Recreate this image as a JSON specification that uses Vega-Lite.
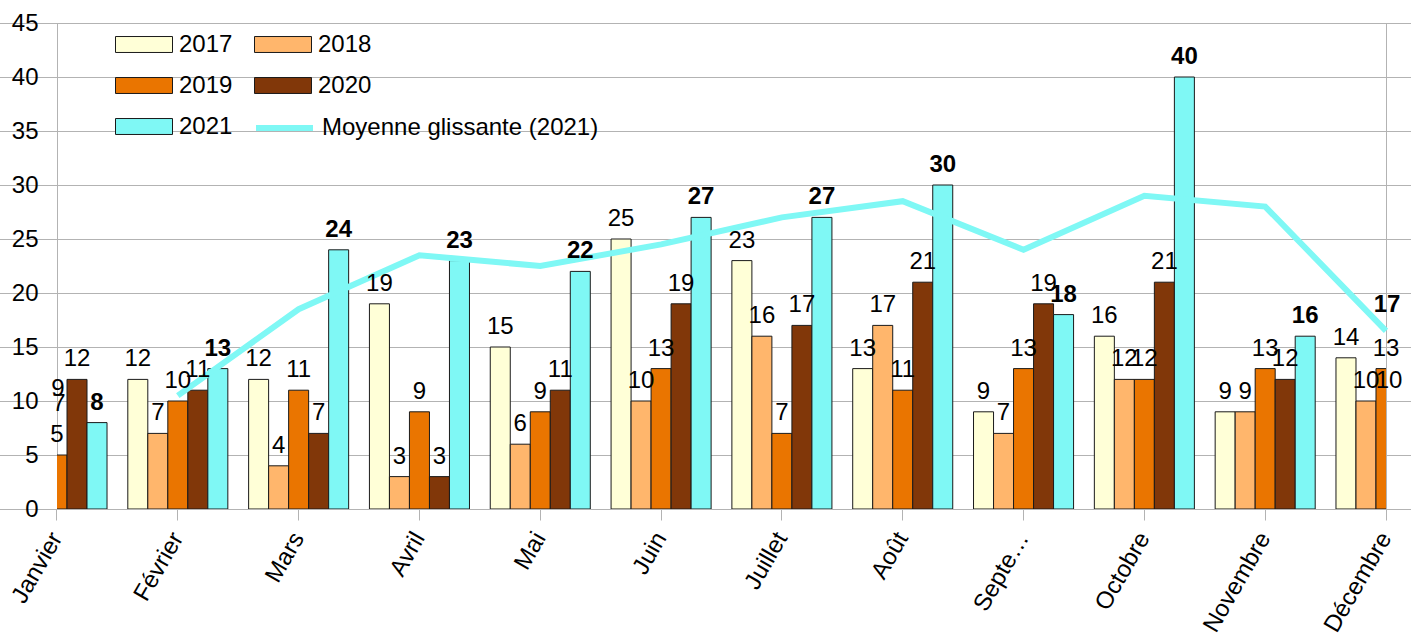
{
  "$schema": "https://vega.github.io/schema/vega-lite/v6.json",
  "width": 1329,
  "height": 486,
  "autosize": {"type": "none"},
  "padding": {"left": 57, "top": 23, "right": 25, "bottom": 126},
  "background": "white",
  "config": {
    "font": "Liberation Sans",
    "view": {"stroke": "#b3b3b3", "strokeWidth": 1},
    "axis": {"labelFont": "Liberation Sans", "labelFontSize": 24, "labelColor": "black", "tickColor": "#b3b3b3", "tickSize": 11, "domain": false, "title": null}
  },
  "datasets": {
    "bars": [
      {"month": "Janvier", "year": "2017", "value": 9},
      {"month": "Janvier", "year": "2018", "value": 7},
      {"month": "Janvier", "year": "2019", "value": 5},
      {"month": "Janvier", "year": "2020", "value": 12},
      {"month": "Janvier", "year": "2021", "value": 8},
      {"month": "Février", "year": "2017", "value": 12},
      {"month": "Février", "year": "2018", "value": 7},
      {"month": "Février", "year": "2019", "value": 10},
      {"month": "Février", "year": "2020", "value": 11},
      {"month": "Février", "year": "2021", "value": 13},
      {"month": "Mars", "year": "2017", "value": 12},
      {"month": "Mars", "year": "2018", "value": 4},
      {"month": "Mars", "year": "2019", "value": 11},
      {"month": "Mars", "year": "2020", "value": 7},
      {"month": "Mars", "year": "2021", "value": 24},
      {"month": "Avril", "year": "2017", "value": 19},
      {"month": "Avril", "year": "2018", "value": 3},
      {"month": "Avril", "year": "2019", "value": 9},
      {"month": "Avril", "year": "2020", "value": 3},
      {"month": "Avril", "year": "2021", "value": 23},
      {"month": "Mai", "year": "2017", "value": 15},
      {"month": "Mai", "year": "2018", "value": 6},
      {"month": "Mai", "year": "2019", "value": 9},
      {"month": "Mai", "year": "2020", "value": 11},
      {"month": "Mai", "year": "2021", "value": 22},
      {"month": "Juin", "year": "2017", "value": 25},
      {"month": "Juin", "year": "2018", "value": 10},
      {"month": "Juin", "year": "2019", "value": 13},
      {"month": "Juin", "year": "2020", "value": 19},
      {"month": "Juin", "year": "2021", "value": 27},
      {"month": "Juillet", "year": "2017", "value": 23},
      {"month": "Juillet", "year": "2018", "value": 16},
      {"month": "Juillet", "year": "2019", "value": 7},
      {"month": "Juillet", "year": "2020", "value": 17},
      {"month": "Juillet", "year": "2021", "value": 27},
      {"month": "Août", "year": "2017", "value": 13},
      {"month": "Août", "year": "2018", "value": 17},
      {"month": "Août", "year": "2019", "value": 11},
      {"month": "Août", "year": "2020", "value": 21},
      {"month": "Août", "year": "2021", "value": 30},
      {"month": "Septembre", "year": "2017", "value": 9},
      {"month": "Septembre", "year": "2018", "value": 7},
      {"month": "Septembre", "year": "2019", "value": 13},
      {"month": "Septembre", "year": "2020", "value": 19},
      {"month": "Septembre", "year": "2021", "value": 18},
      {"month": "Octobre", "year": "2017", "value": 16},
      {"month": "Octobre", "year": "2018", "value": 12},
      {"month": "Octobre", "year": "2019", "value": 12},
      {"month": "Octobre", "year": "2020", "value": 21},
      {"month": "Octobre", "year": "2021", "value": 40},
      {"month": "Novembre", "year": "2017", "value": 9},
      {"month": "Novembre", "year": "2018", "value": 9},
      {"month": "Novembre", "year": "2019", "value": 13},
      {"month": "Novembre", "year": "2020", "value": 12},
      {"month": "Novembre", "year": "2021", "value": 16},
      {"month": "Décembre", "year": "2017", "value": 14},
      {"month": "Décembre", "year": "2018", "value": 10},
      {"month": "Décembre", "year": "2019", "value": 13},
      {"month": "Décembre", "year": "2020", "value": 10},
      {"month": "Décembre", "year": "2021", "value": 17}
    ],
    "avg": [
      {"month": "Février", "avg": 10.5},
      {"month": "Mars", "avg": 18.5},
      {"month": "Avril", "avg": 23.5},
      {"month": "Mai", "avg": 22.5},
      {"month": "Juin", "avg": 24.5},
      {"month": "Juillet", "avg": 27},
      {"month": "Août", "avg": 28.5},
      {"month": "Septembre", "avg": 24},
      {"month": "Octobre", "avg": 29},
      {"month": "Novembre", "avg": 28},
      {"month": "Décembre", "avg": 16.5}
    ]
  },
  "layer": [
    {
      "data": {"name": "bars"},
      "mark": {"type": "bar", "clip": true, "stroke": "#1a1a1a", "strokeWidth": 1},
      "encoding": {
        "x": {
          "field": "month", "type": "nominal",
          "scale": {
            "domain": ["Janvier", "Février", "Mars", "Avril", "Mai", "Juin", "Juillet", "Août", "Septembre", "Octobre", "Novembre", "Décembre"],
            "range": [-60.41, 1389.41], "paddingInner": 0.172, "paddingOuter": 0.086
          },
          "axis": {
            "labelAngle": -60, "labelAlign": "right", "labelBaseline": "middle", "labelPadding": 14,
            "labelOverlap": false, "labelBound": false, "labelFlush": false, "labelLimit": 300,
            "labelExpr": "datum.label == 'Septembre' ? 'Septe…' : datum.label"
          }
        },
        "xOffset": {"field": "year", "type": "nominal", "scale": {"paddingInner": 0, "paddingOuter": 0}},
        "y": {
          "field": "value", "type": "quantitative",
          "scale": {"domain": [0, 45], "nice": false},
          "axis": {"values": [0, 5, 10, 15, 20, 25, 30, 35, 40, 45], "gridColor": "#b3b3b3", "labelPadding": 8}
        },
        "color": {
          "field": "year", "type": "nominal",
          "scale": {
            "domain": ["2017", "2018", "2019", "2020", "2021"],
            "range": ["#ffffd7", "#ffb66c", "#ea7500", "#813709", "#7ff8f5"]
          },
          "legend": {
            "orient": "none", "legendX": 58, "legendY": -7.5, "columns": 2, "direction": "horizontal",
            "columnPadding": 19, "rowPadding": 0,
            "title": null, "padding": 0, "symbolSize": 3249, "symbolType": "M-1,-0.28H1V0.28H-1Z",
            "labelFontSize": 24, "labelFont": "Liberation Sans", "labelColor": "black", "labelOffset": 6, "labelLimit": 400,
            "symbolStrokeWidth": 1
          }
        }
      }
    },
    {
      "data": {"name": "avg"},
      "mark": {"type": "line", "strokeWidth": 6, "strokeCap": "butt"},
      "encoding": {
        "x": {"field": "month", "type": "nominal"},
        "y": {"field": "avg", "type": "quantitative"},
        "stroke": {
          "datum": "Moyenne glissante (2021)",
          "scale": {"domain": ["Moyenne glissante (2021)"], "range": ["#7ff8f5"]},
          "legend": {
            "orient": "none", "legendX": 196, "legendY": 73.5,
            "title": null, "padding": 0, "symbolType": "stroke", "symbolSize": 3249, "symbolStrokeWidth": 6,
            "labelFontSize": 24, "labelFont": "Liberation Sans", "labelColor": "black", "labelOffset": 6, "labelLimit": 400
          }
        }
      }
    },
    {
      "data": {"name": "bars"},
      "transform": [{"filter": "datum.year != '2021' && !(datum.month == 'Janvier' && (datum.year == '2017' || datum.year == '2018')) && !(datum.month == 'Décembre' && datum.year == '2020')"}],
      "mark": {"type": "text", "fontSize": 24, "font": "Liberation Sans", "color": "black", "baseline": "alphabetic", "dy": -13},
      "encoding": {
        "x": {"field": "month", "type": "nominal"},
        "xOffset": {"field": "year", "type": "nominal"},
        "y": {"field": "value", "type": "quantitative"},
        "text": {"field": "value", "type": "quantitative"}
      }
    },
    {
      "data": {"name": "bars"},
      "transform": [{"filter": "datum.year == '2021' && datum.month != 'Décembre'"}],
      "mark": {"type": "text", "fontSize": 24, "font": "Liberation Sans", "fontWeight": "bold", "color": "black", "baseline": "alphabetic", "dy": -13},
      "encoding": {
        "x": {"field": "month", "type": "nominal"},
        "xOffset": {"field": "year", "type": "nominal"},
        "y": {"field": "value", "type": "quantitative"},
        "text": {"field": "value", "type": "quantitative"}
      }
    },
    {
      "data": {"name": "bars"},
      "transform": [{"filter": "datum.month == 'Janvier' && datum.year == '2017'"}],
      "mark": {"type": "text", "fontSize": 24, "font": "Liberation Sans", "color": "black", "baseline": "alphabetic", "dy": -16, "dx": 1},
      "encoding": {
        "x": {"field": "month", "type": "nominal"},
        "y": {"field": "value", "type": "quantitative"},
        "text": {"field": "value", "type": "quantitative"}
      }
    },
    {
      "data": {"name": "bars"},
      "transform": [{"filter": "datum.month == 'Janvier' && datum.year == '2018'"}],
      "mark": {"type": "text", "fontSize": 24, "font": "Liberation Sans", "color": "black", "baseline": "alphabetic", "dy": -22, "dx": 2},
      "encoding": {
        "x": {"field": "month", "type": "nominal"},
        "y": {"field": "value", "type": "quantitative"},
        "text": {"field": "value", "type": "quantitative"}
      }
    },
    {
      "data": {"name": "bars"},
      "transform": [{"filter": "datum.month == 'Décembre' && datum.year == '2020'"}],
      "mark": {"type": "text", "fontSize": 24, "font": "Liberation Sans", "color": "black", "baseline": "alphabetic", "dy": -13, "dx": 3},
      "encoding": {
        "x": {"field": "month", "type": "nominal"},
        "y": {"field": "value", "type": "quantitative"},
        "text": {"field": "value", "type": "quantitative"}
      }
    },
    {
      "data": {"name": "bars"},
      "transform": [{"filter": "datum.month == 'Décembre' && datum.year == '2021'"}],
      "mark": {"type": "text", "fontSize": 24, "font": "Liberation Sans", "fontWeight": "bold", "color": "black", "baseline": "alphabetic", "dy": -13, "dx": 1},
      "encoding": {
        "x": {"field": "month", "type": "nominal"},
        "y": {"field": "value", "type": "quantitative"},
        "text": {"field": "value", "type": "quantitative"}
      }
    }
  ]
}
